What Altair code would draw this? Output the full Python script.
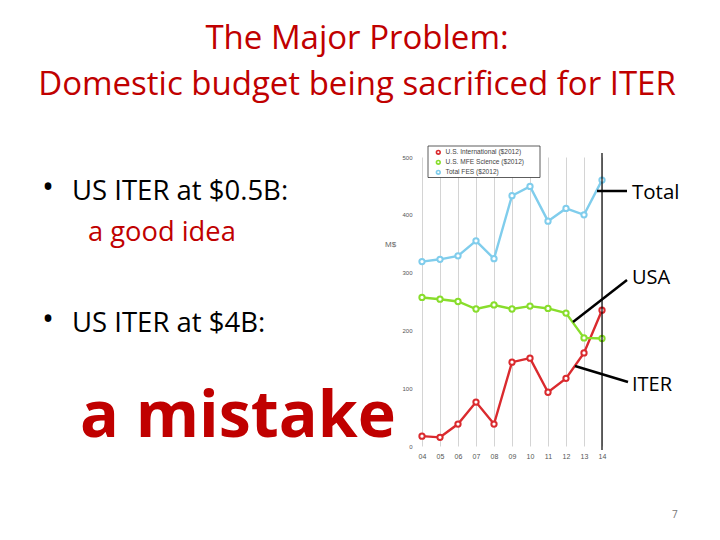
import altair as alt
import pandas as pd

years = ["04", "05", "06", "07", "08", "09", "10", "11", "12", "13", "14"]
series_names = ["U.S. International ($2012)", "U.S. MFE Science ($2012)", "Total FES ($2012)"]
us_international = [17, 15, 38, 76, 38, 145, 152, 93, 117, 161, 235]
us_mfe_science = [257, 254, 250, 237, 244, 237, 242, 238, 230, 187, 186]
total_fes = [319, 323, 329, 355, 324, 433, 449, 389, 411, 400, 460]
colors = ["#DA2A2E", "#88DD2C", "#80CDEC"]

rows = []
for name, vals in zip(series_names, [us_international, us_mfe_science, total_fes]):
    for y, v in zip(years, vals):
        rows.append({"year": y, "series": name, "value": v})
df = pd.DataFrame(rows)

W, H = 180, 289
OX, OY = 422, 157  # plot origin on the page


def px(x):
    return float(x - OX)


def py(y):
    return float(y - OY)


xenc = alt.X("year:O", scale=alt.Scale(type="point", padding=0, domain=years),
             axis=alt.Axis(title=None, grid=True, gridColor="#d4d4d4", gridWidth=1,
                           ticks=False, domain=False, labelAngle=0, labelFontSize=7,
                           labelColor="#555555", labelPadding=6, labelFont="Liberation Sans"))
yenc = alt.Y("value:Q", scale=alt.Scale(domain=[0, 500], nice=False),
             axis=alt.Axis(title=None, grid=False, ticks=False, domain=False,
                           values=[0, 100, 200, 300, 400, 500], labelFontSize=6,
                           labelColor="#555555", labelPadding=10, labelFont="Liberation Sans"))
cenc = alt.Color("series:N", scale=alt.Scale(domain=series_names, range=colors),
                 legend=alt.Legend(title=None, orient="none", legendX=11, legendY=-10,
                                   strokeColor=None, padding=2, labelFontSize=6.6,
                                   labelColor="#444444", symbolType="circle", symbolSize=14,
                                   symbolFillColor="white", symbolStrokeWidth=1.6,
                                   rowPadding=-1, labelFont="Liberation Sans"))

rule_df = pd.DataFrame({"year": ["14"]})

# legend frame (white box with thin dark border)
legend_box = alt.Chart(rule_df).mark_rect(fill="white", stroke="#333333", strokeWidth=0.8).encode(
    x=alt.value(px(428)), x2=alt.value(px(540)), y=alt.value(py(146)), y2=alt.value(py(177.5)))

base = alt.Chart(df)
lines = base.mark_line(strokeWidth=2.4).encode(x=xenc, y=yenc, color=cenc)
points = base.mark_point(shape="circle", filled=False, size=28, strokeWidth=2, fill="white", fillOpacity=1).encode(
    x=alt.X("year:O"), y=alt.Y("value:Q"), color=alt.Color("series:N", legend=None))

black_rule = alt.Chart(rule_df).mark_rule(color="black", strokeWidth=1.2).encode(
    x=alt.X("year:O"), y=alt.value(py(153)), y2=alt.value(py(450)))

# annotation leader lines
ann_x1 = [597, 573, 575]
ann_y1 = [191, 322, 366]
ann_x2 = [627, 627, 628]
ann_y2 = [191, 280, 382]
leader_layers = []
for a, b, c, d in zip(ann_x1, ann_y1, ann_x2, ann_y2):
    leader_layers.append(
        alt.Chart(rule_df).mark_rule(color="black", strokeWidth=2.5).encode(
            x=alt.value(px(a)), x2=alt.value(px(c)), y=alt.value(py(b)), y2=alt.value(py(d))))


def text(label, x, y, size, color="black", weight="normal", align="left", font="Open Sans"):
    return alt.Chart(rule_df).mark_text(
        text=label, fontSize=size, color=color, fontWeight=weight, align=align,
        baseline="alphabetic", font=font).encode(x=alt.value(px(x)), y=alt.value(py(y)))


RED = "#C00000"
texts = [
    text("The Major Problem:", 357, 49, 33, RED, align="center"),
    text("Domestic budget being sacrificed for ITER", 357, 95, 33, RED, align="center"),
    text("•", 42, 198, 32),
    text("US ITER at $0.5B:", 72, 200, 27.5),
    text("a good idea", 88, 241, 27.3, RED),
    text("•", 42, 330, 32),
    text("US ITER at $4B:", 72, 332, 27.5),
    text("a mistake", 80, 437, 64.5, RED, weight="bold"),
    text("Total", 632, 199, 20.5),
    text("USA", 632, 284, 20),
    text("ITER", 632, 391, 20),
    text("M$", 385, 247, 8, "#666666", font="Liberation Sans"),
    text("7", 672, 518, 10, "#777777"),
]

chart = alt.layer(legend_box, lines, points, black_rule, *leader_layers, *texts).properties(
    width=W, height=H,
    autosize=alt.AutoSizeParams(type="none"),
    padding={"left": OX - 8, "top": OY - 8, "right": 704 - (OX - 8) - W, "bottom": 524 - (OY - 8) - H},
).configure_view(stroke=None)

chart.save("out.html", embed_options={"renderer": "svg", "actions": False})
